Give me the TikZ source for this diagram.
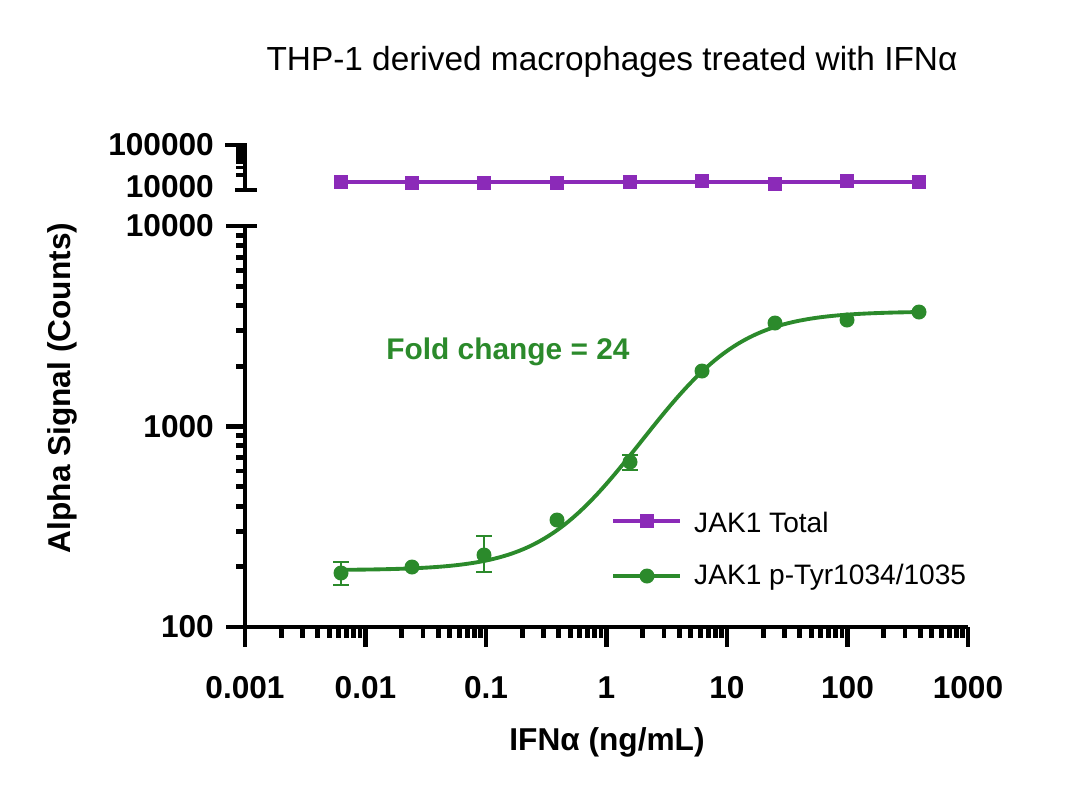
\documentclass[tikz,border=0pt]{standalone}
\usepackage{fontspec}
\setmainfont{Liberation Sans}
\begin{document}
\begin{tikzpicture}[x=0.02cm,y=-0.02cm]
% Colours and looks
\definecolor{jakpurple}{RGB}{139,42,184}
\definecolor{jakgreen}{RGB}{43,138,43}
\tikzset{axisline/.style={line width=2.8pt},
  ticklabel/.style={font=\bfseries\fontsize{18}{20}\selectfont},
  fitline/.style={jakgreen, line width=2.2pt},
  errbar/.style={jakgreen, line width=1.4pt}}
\useasboundingbox (0,0) rectangle (1080,796);

% Title
\node (title) at (612,62) {\fontsize{19}{22}\selectfont THP-1 derived macrophages treated with IFN\char"03B1};

% Axes
\draw[axisline] (245,226) -- (245,647);
\draw[axisline] (245,627) -- (968,627);
\draw[axisline] (245,143) -- (245,190);
\draw[axisline] (235,190) -- (257,190);
\draw[axisline] (235,226) -- (257,226);
\draw[axisline] (225,145) -- (245,145);

% x ticks
\foreach \d/\lab [count=\i from 0] in {-3/0.001,-2/0.01,-1/0.1,0/1,1/10,2/100,3/1000}{
  \draw[axisline] ({245+120.5*\i},627) -- ({245+120.5*\i},647);
  \node[ticklabel] (xl\i) at ({245+120.5*\i},688) {\lab};
  \ifnum\i<6
  \foreach \m in {2,...,9}
    \draw[axisline] ({245+120.5*(\i+log10(\m))},627) -- ({245+120.5*(\i+log10(\m))},638);
  \fi
}
\draw[axisline] (968,627) -- (968,647);

% y ticks (lower segment)
\foreach \lab [count=\i from 0] in {100,1000,10000}{
  \draw[axisline] (226,{627-200.5*\i}) -- (245,{627-200.5*\i});
  \node[ticklabel, anchor=east] (yl\i) at (220,{627-200.5*\i}) {\lab};
  \ifnum\i<2
  \foreach \m in {2,...,9}
    \draw[axisline] (236,{627-200.5*(\i+log10(\m))}) -- (245,{627-200.5*(\i+log10(\m))});
  \fi
}
% y ticks (upper segment)
\foreach \m in {2,...,9}
  \draw[line width=2pt] (236,{188-43*log10(\m)}) -- (245,{188-43*log10(\m)});
\node[ticklabel, anchor=east] (yu1) at (220,145) {100000};
\node[ticklabel, anchor=east] (yu0) at (220,187) {10000};

% Axis titles
\node[ticklabel, rotate=90] (ytitle) at (62,388) {Alpha Signal (Counts)};
\node[ticklabel] (xtitle) at (607,742) {IFN\char"03B1\ (ng/mL)};

% JAK1 Total
\draw[jakpurple, line width=2.2pt] (341,182) -- (919,182);
\foreach \px/\py in {341/182,412/183,484/183,557/183,630/182,702/181,775/184,847/181,919/182}
  \fill[jakpurple] (\px-7,\py-7) rectangle (\px+7,\py+7);

% JAK1 phospho: fit and points
\draw[fitline] plot[domain=-2.22:2.6, samples=120]
  ({245+120.5*(\x+3)}, {627-200.5*(log10(192+3558/(1+10^(1.2*(0.83-\x))))-2)});
\foreach \px/\lo/\hi in {341/562/585,484/536/572,630/455/470}{
  \draw[errbar] (\px,\lo) -- (\px,\hi);
  \draw[errbar] (\px-8,\lo) -- (\px+8,\lo);
  \draw[errbar] (\px-8,\hi) -- (\px+8,\hi);
}
\foreach \px/\py in {341/573,412/567,484/555,557/520,630/462,702/371,775/323,847/320,919/312}
  \fill[jakgreen] (\px,\py) circle (7.5);

\node[jakgreen, font=\bfseries\fontsize{17}{20}\selectfont] (fold) at (508,352) {Fold change = 24};

% Legend
\draw[jakpurple, line width=2.2pt] (613,521) -- (680,521);
\fill[jakpurple] (640,514) rectangle (654,528);
\node[anchor=west, font=\fontsize{16}{19}\selectfont] (legtot) at (688,522) {JAK1 Total};
\draw[jakgreen, line width=2.2pt] (613,576) -- (680,576);
\fill[jakgreen] (647,576) circle (7.5);
\node[anchor=west, font=\fontsize{16}{19}\selectfont] (legphos) at (688,577) {JAK1 p-Tyr1034/1035};
\end{tikzpicture}
\end{document}
